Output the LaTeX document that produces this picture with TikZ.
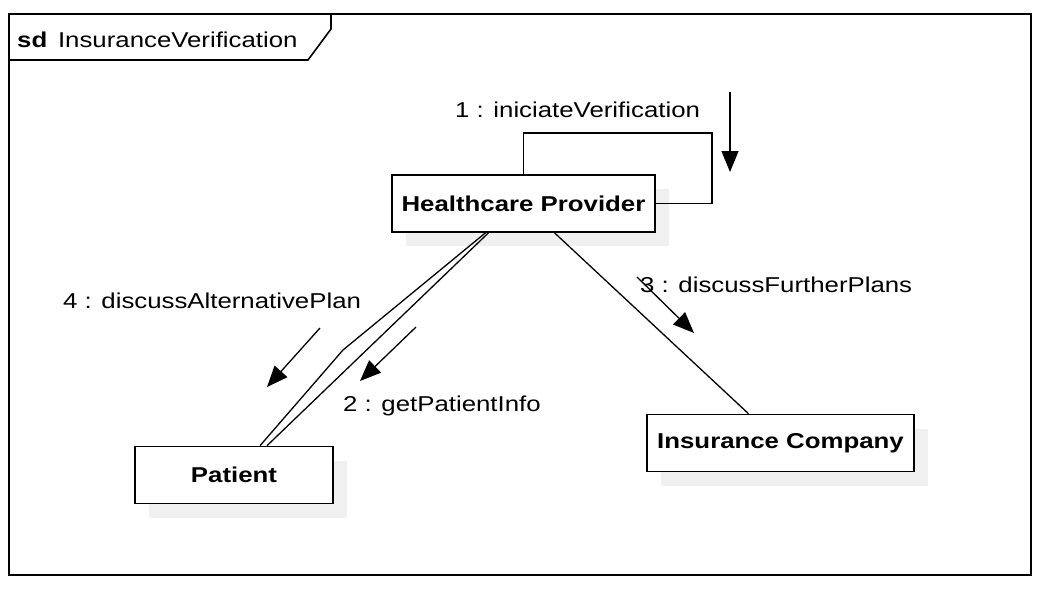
\documentclass[tikz,border=0pt]{standalone}
\usepackage{fontspec}
\setmainfont[FakeStretch=1.2]{Liberation Sans}
\usetikzlibrary{arrows.meta,shadows}
\definecolor{shade}{HTML}{F0F0F0}
\newcommand{\umlfont}{\fontsize{21.5}{25}\selectfont}
\tikzset{
  obj/.style={draw,line width=1.6pt,fill=white,inner sep=0pt,font=\umlfont\bfseries,
    minimum width=#1,minimum height=57pt,
    drop shadow={shadow xshift=14pt,shadow yshift=-14pt,fill=shade,opacity=1}},
  link/.style={line width=1.3pt},
  msg/.style={-{Triangle[length=21pt,width=17pt]},line width=1.3pt},
  lbl/.style={anchor=base west,inner sep=0pt,font=\umlfont},
}

\begin{document}
\begin{tikzpicture}[x=1pt,y=-1pt]
\useasboundingbox (0,0) rectangle (1049,597);
% frame
\draw[line width=1.6pt] (9,14) rectangle (1031,575);
\draw[line width=1.6pt] (9,14) -- (331,14) -- (331,29) -- (308,60) -- (9,60);
\node[lbl] (title) at (17,47) {\textbf{sd}\enspace InsuranceVerification};
% objects
\node[obj=263pt] (hp)  at (523.5,203.5) {Healthcare Provider};
\node[obj=198pt] (pat) at (234,475)     {Patient};
\node[obj=267pt] (ic)  at (780.5,443)   {Insurance Company};
% links
\draw[link] (hp.north) |- (712,133) |- (hp.east);
\draw[link] ([xshift=-38pt]hp.south) -- (343,350) -- ([xshift=26pt]pat.north);
\draw[link] ([xshift=-35pt]hp.south) -- ([xshift=33pt]pat.north);
\draw[link] ([xshift=31pt]hp.south) -- ([xshift=-32pt]ic.north);
% messages
\coordinate (m1a) at (730,92);  \coordinate (m1b) at (730,172);
\coordinate (m2a) at (416,327); \coordinate (m2b) at (360,381);
\coordinate (m3a) at (637,277); \coordinate (m3b) at (694,333);
\coordinate (m4a) at (320,328); \coordinate (m4b) at (267,387);
\foreach \m in {m1,m2,m3,m4}
  \draw[msg] (\m a) -- (\m b);
\node[lbl] (l1) at (455,117) {1 : iniciateVerification};
\node[lbl] (l2) at (343,411) {2 : getPatientInfo};
\node[lbl] (l3) at (640,292) {3 : discussFurtherPlans};
\node[lbl] (l4) at (63,308)  {4 : discussAlternativePlan};
\end{tikzpicture}
\end{document}
